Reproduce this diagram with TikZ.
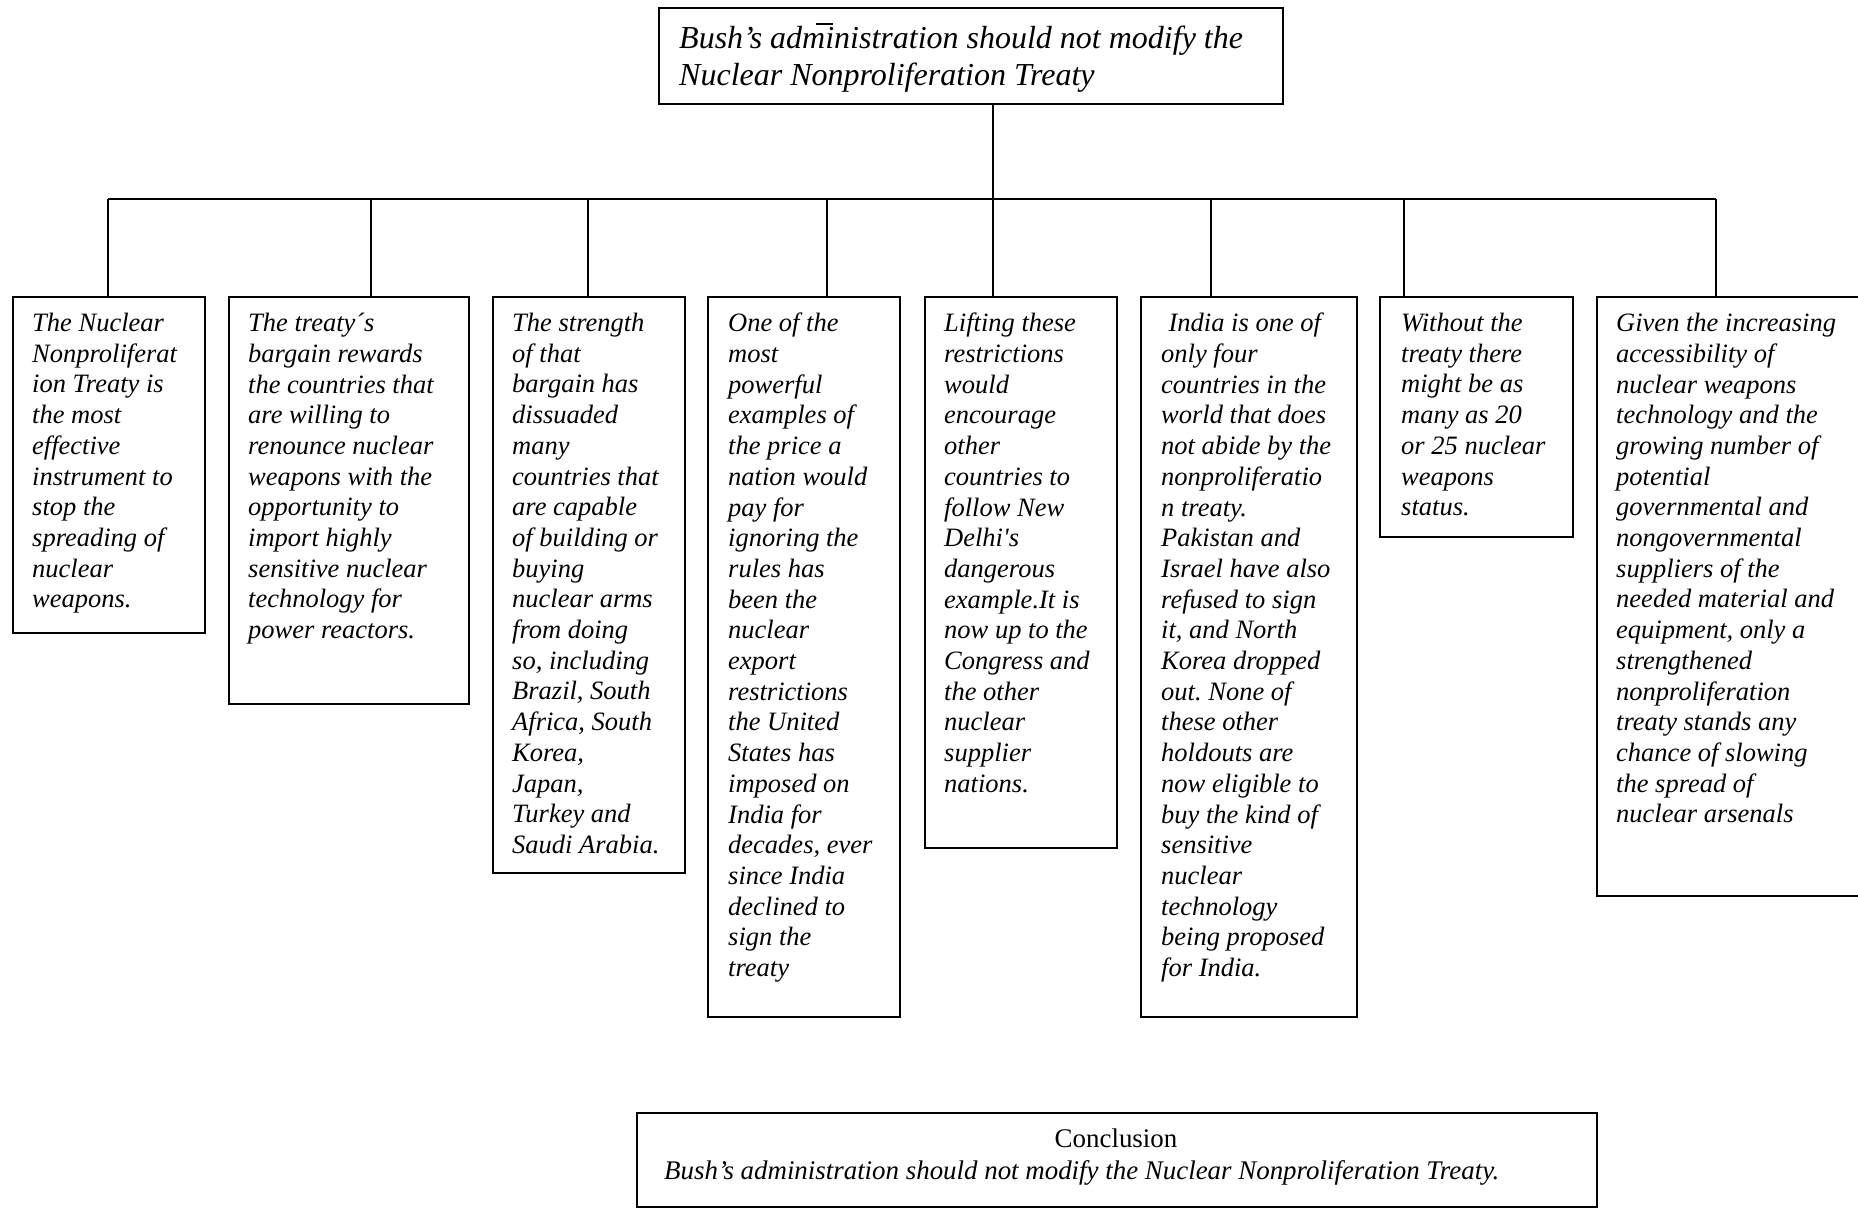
\documentclass[tikz,border=0pt]{standalone}
\usepackage{fontspec}
\setmainfont{Liberation Serif}
\usetikzlibrary{calc}
\frenchspacing
\begin{document}
\begin{tikzpicture}[x=1pt,y=-1pt,
  box/.style={draw, line width=1.8pt, inner sep=0pt, anchor=north west},
  txt/.style={anchor=north west, inner sep=0pt, align=left,
    font=\fontsize{26.5}{30.7}\selectfont\itshape},
  link/.style={line width=1.8pt}]
\useasboundingbox (0,0) rectangle (1858,1208);
\clip (0,0) rectangle (1858,1208);

% thesis box
\node[box, minimum width=624pt, minimum height=96pt] (top) at (658,7) {};
\node[txt, font=\fontsize{32}{36.7}\selectfont\itshape] (toptxt) at (679,23)
  {Bush’s adm\rlap{\hspace{-0.3em}\rule[0.74em]{0.55em}{0.06em}}inistration should not modify the\\
   Nuclear Nonproliferation Treaty};

% argument boxes
\node[box, minimum width=192pt, minimum height=336pt] (b1) at (12,296) {};
\node[box, minimum width=240pt, minimum height=407pt] (b2) at (228,296) {};
\node[box, minimum width=192pt, minimum height=576pt] (b3) at (492,296) {};
\node[box, minimum width=192pt, minimum height=720pt] (b4) at (707,296) {};
\node[box, minimum width=192pt, minimum height=551pt] (b5) at (924,296) {};
\node[box, minimum width=216pt, minimum height=720pt] (b6) at (1140,296) {};
\node[box, minimum width=193pt, minimum height=240pt] (b7) at (1379,296) {};
\node[box, minimum width=280pt, minimum height=599pt] (b8) at (1596,296) {};

\node[txt] (t1) at (32,313) {The Nuclear\\Nonproliferat\\ion Treaty is\\the most\\effective\\instrument to\\stop the\\spreading of\\nuclear\\weapons.};
\node[txt] (t2) at (248,313) {The treaty´s\\bargain rewards\\the countries that\\are willing to\\renounce nuclear\\weapons with the\\opportunity to\\import highly\\sensitive nuclear\\technology for\\power reactors.};
\node[txt] (t3) at (512,313) {The strength\\of that\\bargain has\\dissuaded\\many\\countries that\\are capable\\of building or\\buying\\nuclear arms\\from doing\\so, including\\Brazil, South\\Africa, South\\Korea,\\Japan,\\Turkey and\\Saudi Arabia.};
\node[txt] (t4) at (728,313) {One of the\\most\\powerful\\examples of\\the price a\\nation would\\pay for\\ignoring the\\rules has\\been the\\nuclear\\export\\restrictions\\the United\\States has\\imposed on\\India for\\decades, ever\\since India\\declined to\\sign the\\treaty};
\node[txt] (t5) at (944,313) {Lifting these\\restrictions\\would\\encourage\\other\\countries to\\follow New\\Delhi\textquotesingle s\\dangerous\\example.It is\\now up to the\\Congress and\\the other\\nuclear\\supplier\\nations.};
\node[txt] (t6) at (1161,313) {\hspace*{0.28em}India is one of\\only four\\countries in the\\world that does\\not abide by the\\nonproliferatio\\n treaty.\\Pakistan and\\Israel have also\\refused to sign\\it, and North\\Korea dropped\\out. None of\\these other\\holdouts are\\now eligible to\\buy the kind of\\sensitive\\nuclear\\technology\\being proposed\\for India.};
\node[txt] (t7) at (1401,313) {Without the\\treaty there\\might be as\\many as 20\\or 25 nuclear\\weapons\\status.};
\node[txt] (t8) at (1616,313) {Given the increasing\\accessibility of\\nuclear weapons\\technology and the\\growing number of\\potential\\governmental and\\nongovernmental\\suppliers of the\\needed material and\\equipment, only a\\strengthened\\nonproliferation\\treaty stands any\\chance of slowing\\the spread of\\nuclear arsenals};

% conclusion box
\node[box, minimum width=960pt, minimum height=94pt] (conc) at (636,1112) {};
\node[anchor=base, inner sep=0pt, font=\fontsize{26.9}{31}\selectfont] (conchead)
  at (1116,1147) {Conclusion};
\node[anchor=base west, inner sep=0pt, font=\fontsize{26.9}{31}\selectfont\itshape] (conctxt)
  at (664,1179) {Bush’s administration should not modify the Nuclear Nonproliferation Treaty.};

% tree connectors
\coordinate (hub) at (993,199);
\coordinate (j1) at (108,199);
\coordinate (j2) at (371,199);
\coordinate (j3) at (588,199);
\coordinate (j4) at (827,199);
\coordinate (j5) at (993,199);
\coordinate (j6) at (1211,199);
\coordinate (j7) at (1404,199);
\coordinate (j8) at (1716,199);

\draw[link] (top.south -| hub) -- (hub);
\draw[link] (j1) -- (j8);
\foreach \i in {1,...,8} {
  \draw[link] (j\i) -- (j\i |- b\i.north);
}
\end{tikzpicture}
\end{document}
